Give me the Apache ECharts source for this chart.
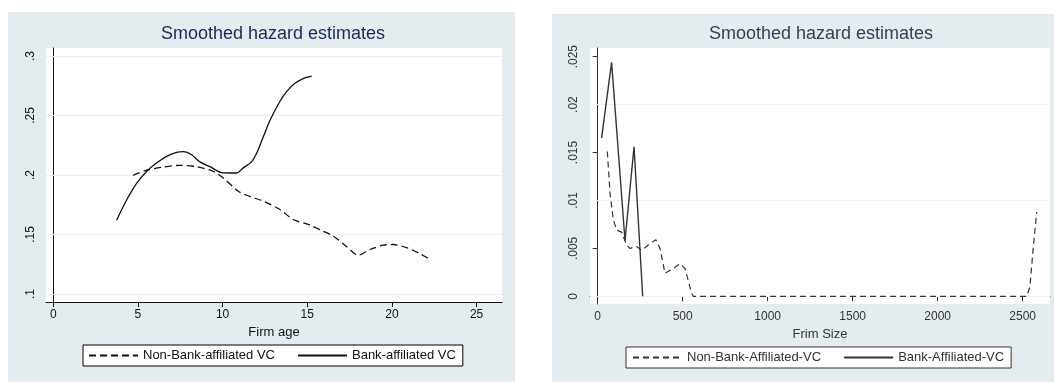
<!DOCTYPE html>
<html>
<head>
<meta charset="utf-8">
<script src="https://cdn.jsdelivr.net/npm/echarts@6/dist/echarts.min.js"></script>
<style>
  html, body { margin: 0; padding: 0; background: #fff; }
  #chart { width: 1054px; height: 382px; }
</style>
</head>
<body>
<div id="chart"></div>
<script>
// left panel: hazard by firm age
const ageTicksX = [0, 5, 10, 15, 20, 25];
const ageTicksY = [0.1, 0.15, 0.2, 0.25, 0.3];
const nonBankAgeX = [4.72, 5.51, 6.50, 7.48, 8.46, 9.45, 10.04, 10.93, 11.61, 12.40, 13.39, 14.17, 15.16, 15.75, 16.54, 17.32, 18.01, 18.70, 19.49, 20.08, 20.87, 21.65, 22.24];
const nonBankAgeY = [0.1997, 0.204, 0.2067, 0.2081, 0.207, 0.203, 0.1975, 0.1863, 0.182, 0.178, 0.171, 0.1626, 0.158, 0.154, 0.1486, 0.140, 0.1327, 0.1374, 0.141, 0.1416, 0.1389, 0.134, 0.129];
const bankAgeX = [3.74, 4.33, 4.92, 5.51, 6.10, 6.69, 7.28, 7.68, 8.17, 8.66, 9.25, 9.94, 10.43, 10.83, 11.22, 11.71, 12.0, 12.40, 12.80, 13.39, 13.78, 14.27, 14.76, 15.26];
const bankAgeY = [0.162, 0.179, 0.193, 0.203, 0.210, 0.2156, 0.219, 0.2196, 0.217, 0.211, 0.207, 0.202, 0.2017, 0.2017, 0.206, 0.211, 0.218, 0.232, 0.246, 0.262, 0.270, 0.277, 0.281, 0.283];

// right panel: hazard by firm size
const sizeTicksX = [0, 500, 1000, 1500, 2000, 2500];
const sizeTicksY = [0, 0.005, 0.01, 0.015, 0.02, 0.025];
const nonBankSizeX = [57, 73, 92, 112, 141, 171, 190, 229, 259, 308, 343, 367, 396, 445, 484, 514, 553, 563, 2524, 2543, 2563, 2583];
const nonBankSizeY = [0.0151, 0.0107, 0.0080, 0.0069, 0.0067, 0.0053, 0.0050, 0.0052, 0.0048, 0.0055, 0.0059, 0.0050, 0.0024, 0.0029, 0.0034, 0.0029, 0.0003, 0, 0, 0.0010, 0.0052, 0.0088];
const bankSizeX = [23, 82, 161, 214, 265];
const bankSizeY = [0.0165, 0.0244, 0.0058, 0.0156, 0];

const zip = (xs, ys) => xs.map((x, i) => [x, ys[i]]);
const stataLabel = v => (v === 0 ? '0' : String(v).replace(/^0\./, '.'));
const font = "'Liberation Sans', Arial, sans-serif";

const gridLines = (ticks, color) => ({
    silent: true,
    symbol: 'none',
    z: 1,
    label: { show: false },
    lineStyle: { color: color, type: 'solid', width: 1 },
    data: ticks.map(v => ({ yAxis: v }))
});

const makeX = (gridIndex, min, max, ticks, name, color) => ({
    type: 'value',
    gridIndex,
    min, max,
    name,
    nameLocation: 'middle',
    nameGap: 20,
    nameTextStyle: { fontFamily: font, fontSize: 13, color: color },
    axisLine: { show: true, lineStyle: { color: color, width: 1 } },
    axisTick: { show: true, length: 5, customValues: ticks, lineStyle: { color: color } },
    axisLabel: { customValues: ticks, margin: 7, fontFamily: font, fontSize: 12, color: color, formatter: stataLabel },
    splitLine: { show: false }
});

const makeY = (gridIndex, min, max, ticks, color, margin) => ({
    type: 'value',
    gridIndex,
    min, max,
    axisLine: { show: true, lineStyle: { color: color, width: 1 } },
    axisTick: { show: true, length: 5, customValues: ticks, lineStyle: { color: color } },
    axisLabel: { customValues: ticks, rotate: 90, margin: margin, fontFamily: font, fontSize: 12, color: color, formatter: stataLabel },
    splitLine: { show: false }
});

const legendBase = {
    itemGap: 22, itemWidth: 49, itemHeight: 14, selectedMode: false,
    backgroundColor: '#fff', borderWidth: 1, borderRadius: 0,
    itemStyle: { color: 'rgba(0,0,0,0)', borderWidth: 0, opacity: 0 }
};

const chart = echarts.init(document.getElementById('chart'));
chart.setOption({
    animation: false,
    backgroundColor: '#fff',
    graphic: [
        { type: 'rect', z: -100, silent: true, shape: { x: 8, y: 12, width: 507, height: 370 }, style: { fill: '#e4ecef' } },
        { type: 'rect', z: -100, silent: true, shape: { x: 552, y: 14, width: 502, height: 368 }, style: { fill: '#e4ecef' } }
    ],
    title: [
        { text: 'Smoothed hazard estimates', left: 273, top: 25, textAlign: 'center', padding: 0,
          textStyle: { fontFamily: font, fontSize: 18, fontWeight: 'normal', color: '#1b2a57' } },
        { text: 'Smoothed hazard estimates', left: 821, top: 25, textAlign: 'center', padding: 0,
          textStyle: { fontFamily: font, fontSize: 18, fontWeight: 'normal', color: '#3a3e52' } }
    ],
    legend: [
        Object.assign({}, legendBase, {
          data: ['Non-Bank-affiliated VC', 'Bank-affiliated VC'], left: 83, top: 345,
          padding: [4, 7, 4, 5], borderColor: '#000',
          textStyle: { fontFamily: font, fontSize: 13, color: '#111' } }),
        Object.assign({}, legendBase, {
          data: ['Non-Bank-Affiliated-VC', 'Bank-Affiliated-VC'], left: 626, top: 347,
          padding: [4, 7, 4, 6], borderColor: '#333',
          textStyle: { fontFamily: font, fontSize: 13, color: '#333' } })
    ],
    grid: [
        { left: 46, top: 48, width: 456, height: 254, show: true, backgroundColor: '#fff', borderWidth: 0 },
        { left: 590, top: 48, width: 460, height: 256, show: true, backgroundColor: '#fff', borderWidth: 0 }
    ],
    xAxis: [
        makeX(0, -0.43, 26.5, ageTicksX, 'Firm age', '#111'),
        makeX(1, -45, 2661, sizeTicksX, 'Frim Size', '#333')
    ],
    yAxis: [
        makeY(0, 0.0933, 0.3067, ageTicksY, '#111', 9),
        makeY(1, -0.0008, 0.0259, sizeTicksY, '#333', 10)
    ],
    series: [
        { name: 'Non-Bank-affiliated VC', type: 'line', xAxisIndex: 0, yAxisIndex: 0,
          data: zip(nonBankAgeX, nonBankAgeY), smooth: 0.3, showSymbol: false, symbol: 'none',
          lineStyle: { color: '#111', width: 1.3, type: [7, 4] }, itemStyle: { color: '#111' },
          markLine: gridLines(ageTicksY, '#e6eff2') },
        { name: 'Bank-affiliated VC', type: 'line', xAxisIndex: 0, yAxisIndex: 0,
          data: zip(bankAgeX, bankAgeY), smooth: 0.3, showSymbol: false, symbol: 'none',
          lineStyle: { color: '#111', width: 1.3, type: 'solid' }, itemStyle: { color: '#111' } },
        { name: 'Non-Bank-Affiliated-VC', type: 'line', xAxisIndex: 1, yAxisIndex: 1,
          data: zip(nonBankSizeX, nonBankSizeY), showSymbol: false, symbol: 'none',
          lineStyle: { color: '#333', width: 1.2, type: [6, 4] }, itemStyle: { color: '#333' },
          markLine: gridLines(sizeTicksY, '#eef2f4') },
        { name: 'Bank-Affiliated-VC', type: 'line', xAxisIndex: 1, yAxisIndex: 1,
          data: zip(bankSizeX, bankSizeY), showSymbol: false, symbol: 'none',
          lineStyle: { color: '#333', width: 1.4, type: 'solid' }, itemStyle: { color: '#333' } }
    ]
});
</script>
</body>
</html>
